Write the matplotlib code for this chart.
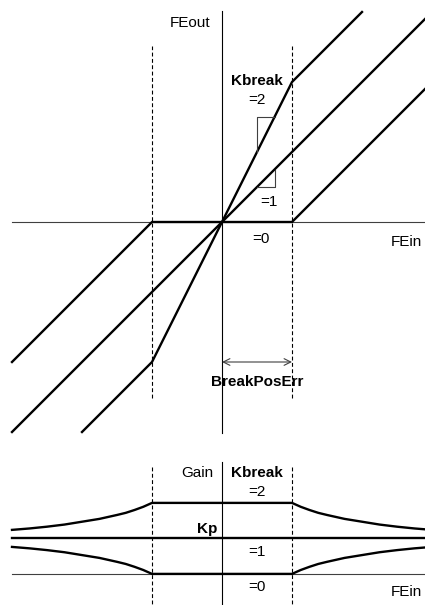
import matplotlib
matplotlib.use("Agg")
import matplotlib.pyplot as plt

plt.rcParams["font.family"] = ["Liberation Sans", "DejaVu Sans"]

# Transfer characteristic FEout(FEin) for the three Kbreak settings (breakpoints)
fe_in_k2 = [-2.0, -1.0, 1.0, 2.0]
fe_out_k2 = [-3.0, -2.0, 2.0, 3.0]
fe_in_k1 = [-3.0, 3.0]
fe_out_k1 = [-3.0, 3.0]
fe_in_k0 = [-3.0, -1.0, 1.0, 3.0]
fe_out_k0 = [-2.0, 0.0, 0.0, 2.0]

# Resulting gain for |FEin| beyond BreakPosErr
gain_fe = [1.0, 1.125, 1.25, 1.375, 1.5, 1.75, 2.0, 2.25, 2.5, 2.75, 3.0]
gain_k2 = [2.0, 1.89, 1.80, 1.72, 1.66, 1.55, 1.47, 1.39, 1.33, 1.28, 1.24]
gain_k0 = [0.0, 0.11, 0.20, 0.28, 0.34, 0.45, 0.53, 0.61, 0.67, 0.72, 0.76]
break_pos = 1.0
kp_gain = 1.0

TXT = 11
THICK = 1.7
THIN = 0.8
GRAY = "#404040"
DASH = (0, (3.5, 2.2))

fig = plt.figure(figsize=(4.25, 6.05), dpi=100)
top_h = 440 / 605
ax = fig.add_axes([0, 1 - top_h, 1, top_h])
bx = fig.add_axes([0, 0, 1, 1 - top_h])
for a in (ax, bx):
    a.set_axis_off()
    a.set_xlim((0 - 222) / 70, (425 - 222) / 70)
ax.set_ylim((222 - 440) / 70, 222 / 70)
bx.set_ylim(1 + (538.4 - 605) / 35.5, 1 + (538.4 - 440) / 35.5)

# ---------- upper diagram: FEout vs FEin ----------
ax.plot([0, 0], [-3.01, 3.01], color="black", lw=THIN)
ax.plot([-3.0, 3.5], [0, 0], color=GRAY, lw=THIN)
for xb in (-break_pos, break_pos):
    ax.plot([xb, xb], [-2.51, 2.51], color="black", lw=THIN, linestyle=DASH)

ax.plot(fe_in_k2, fe_out_k2, color="black", lw=THICK, solid_joinstyle="miter")
ax.plot(fe_in_k1, fe_out_k1, color="black", lw=THICK)
ax.plot(fe_in_k0, fe_out_k0, color="black", lw=THICK, solid_joinstyle="miter")

# slope triangles
ax.plot([0.75, 0.5, 0.5], [1.5, 1.5, 1.0], color=GRAY, lw=THIN)
ax.plot([0.5, 0.75, 0.75], [0.5, 0.5, 0.75], color=GRAY, lw=THIN)

ax.annotate("", xy=(0, -2.0), xytext=(break_pos, -2.0),
            arrowprops=dict(arrowstyle="<->", color=GRAY, lw=THIN,
                            mutation_scale=12, shrinkA=0, shrinkB=0))

ax.text(-0.17, 2.84, "FEout", fontsize=TXT, ha="right", va="center")
ax.text(0.5, 2.01, "Kbreak", fontsize=TXT, fontweight="bold", ha="center", va="center")
ax.text(0.5, 1.75, "=2", fontsize=TXT, ha="center", va="center")
ax.text(0.67, 0.29, "=1", fontsize=TXT, ha="center", va="center")
ax.text(0.56, -0.24, "=0", fontsize=TXT, ha="center", va="center")
ax.text(2.41, -0.29, "FEin", fontsize=TXT, ha="left", va="center")
ax.text(0.5, -2.29, "BreakPosErr", fontsize=TXT, fontweight="bold", ha="center", va="center")

# ---------- lower diagram: gain vs FEin ----------
bx.plot([0, 0], [1 + (538.4 - 462) / 35.5, -2], color="black", lw=THIN)
bx.plot([-3.0, 3.5], [0, 0], color=GRAY, lw=THIN)
for xb in (-break_pos, break_pos):
    bx.plot([xb, xb], [1 + (538.4 - 467) / 35.5, -2], color="black", lw=THIN, linestyle=DASH)

bx.plot([-3.0, 3.5], [kp_gain, kp_gain], color="black", lw=THICK)

neg_fe = [-v for v in gain_fe[::-1]]
xs = neg_fe + gain_fe
bx.plot(xs, gain_k2[::-1] + gain_k2, color="black", lw=THICK, solid_joinstyle="round")
bx.plot(xs, gain_k0[::-1] + gain_k0, color="black", lw=THICK, solid_joinstyle="round")

bx.text(-0.13, 2.84, "Gain", fontsize=TXT, ha="right", va="center")
bx.text(0.5, 2.84, "Kbreak", fontsize=TXT, fontweight="bold", ha="center", va="center")
bx.text(0.5, 2.31, "=2", fontsize=TXT, ha="center", va="center")
bx.text(-0.06, 1.27, "Kp", fontsize=TXT, fontweight="bold", ha="right", va="center")
bx.text(0.5, 0.62, "=1", fontsize=TXT, ha="center", va="center")
bx.text(0.5, -0.37, "=0", fontsize=TXT, ha="center", va="center")
bx.text(2.41, -0.51, "FEin", fontsize=TXT, ha="left", va="center")

fig.savefig("out.png", dpi=100)
